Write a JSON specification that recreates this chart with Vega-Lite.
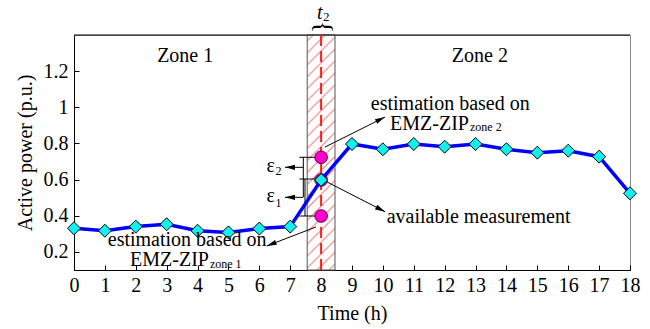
{
  "$schema": "https://vega.github.io/schema/vega-lite/v6.json",
  "width": 556,
  "height": 235,
  "autosize": "none",
  "padding": {"left": 74, "top": 35, "right": 20, "bottom": 59},
  "background": "white",
  "config": {
    "font": "Liberation Serif",
    "view": {"stroke": "#888888", "strokeWidth": 1},
    "axis": {
      "labelFont": "Liberation Serif", "labelFontSize": 20, "labelColor": "black",
      "titleFont": "Liberation Serif", "titleFontSize": 20, "titleFontWeight": "normal", "titleColor": "black",
      "domainColor": "black", "tickColor": "black", "grid": false, "tickSize": -5,
      "labelFlush": false, "labelOverlap": false
    }
  },
  "datasets": {
    "series": [
      {"x": 0, "y": 0.331}, {"x": 1, "y": 0.317}, {"x": 2, "y": 0.340}, {"x": 3, "y": 0.353},
      {"x": 4, "y": 0.317}, {"x": 5, "y": 0.308}, {"x": 6, "y": 0.329}, {"x": 7, "y": 0.340},
      {"x": 8, "y": 0.598}, {"x": 9, "y": 0.797}, {"x": 10, "y": 0.768}, {"x": 11, "y": 0.797},
      {"x": 12, "y": 0.782}, {"x": 13, "y": 0.797}, {"x": 14, "y": 0.768}, {"x": 15, "y": 0.749},
      {"x": 16, "y": 0.760}, {"x": 17, "y": 0.727}, {"x": 18, "y": 0.524}
    ],
    "estimates": [{"x": 8, "y": 0.7235}, {"x": 8, "y": 0.598}, {"x": 8, "y": 0.3987}],
    "band": [{"x": 7.55, "x2": 8.45, "y": 0.1, "y2": 1.4}],
    "marker": [{"x": 8, "y": 0.1, "y2": 1.4}],
    "frame": [{"x": 0, "x2": 18, "y": 1.4}],
    "brackets": [
      {"x": 7.294, "y": 0.7235, "x2": 7.802, "y2": 0.7235},
      {"x": 7.294, "y": 0.6034, "x2": 7.802, "y2": 0.6034},
      {"x": 7.294, "y": 0.3987, "x2": 7.802, "y2": 0.3987},
      {"x": 7.424, "y": 0.7235, "x2": 7.424, "y2": 0.502},
      {"x": 7.478, "y": 0.6034, "x2": 7.478, "y2": 0.3987}
    ],
    "arrows": [
      {"id": "A", "x": 8.126, "y": 0.780, "x2": 10.068, "y2": 0.946},
      {"id": "B", "x": 8.19, "y": 0.587, "x2": 10.07, "y2": 0.4225},
      {"id": "C", "x": 7.835, "y": 0.338, "x2": 6.238, "y2": 0.233},
      {"id": "E2", "x": 7.414, "y": 0.668, "x2": 6.831, "y2": 0.668},
      {"id": "E1", "x": 7.414, "y": 0.502, "x2": 6.831, "y2": 0.502}
    ],
    "centerText": [
      {"label": "Zone 1", "x": 3.6, "y": 1.252},
      {"label": "Zone 2", "x": 13.14, "y": 1.25},
      {"label": "estimation based on", "x": 12.18, "y": 0.985},
      {"label": "estimation based on", "x": 3.664, "y": 0.231}
    ],
    "rightText": [
      {"label": "EMZ-ZIP", "x": 12.788, "y": 0.8745},
      {"label": "EMZ-ZIP", "x": 4.37, "y": 0.12},
      {"label": "ε", "x": 6.507, "y": 0.644},
      {"label": "ε", "x": 6.507, "y": 0.4745}
    ],
    "leftText": [
      {"label": "available measurement", "x": 10.123, "y": 0.358}
    ],
    "subText": [
      {"label": "zone 2", "x": 12.82, "y": 0.869},
      {"label": "zone 1", "x": 4.40, "y": 0.112},
      {"label": "2", "x": 6.52, "y": 0.628},
      {"label": "1", "x": 6.52, "y": 0.450}
    ],
    "tText": [{"label": "t", "x": 7.96, "y": 1.487}],
    "tSub": [{"label": "2", "x": 8.061, "y": 1.480}],
    "brace": [{"label": "}", "x": 8.0, "y": 1.444}]
  },
  "encoding": {
    "x": {
      "field": "x", "type": "quantitative",
      "scale": {"domain": [0, 18], "nice": false, "zero": false},
      "axis": {"orient": "bottom", "values": [0,1,2,3,4,5,6,7,8,9,10,11,12,13,14,15,16,17,18], "format": "d", "title": "Time (h)", "labelFont": "Liberation Serif", "titleFont": "Liberation Serif", "labelPadding": 10, "titlePadding": 8}
    },
    "y": {
      "field": "y", "type": "quantitative",
      "scale": {"domain": [0.1, 1.4], "nice": false, "zero": false},
      "axis": {"values": [0.2, 0.4, 0.6, 0.8, 1, 1.2], "format": "~g", "title": "Active power (p.u.)", "labelFont": "Liberation Serif", "titleFont": "Liberation Serif", "labelPadding": 11, "titlePadding": 8}
    }
  },
  "layer": [
    {
      "data": {"name": "band"},
      "mark": {
        "type": "rect", "stroke": "#555555", "strokeWidth": 1,
        "fill": {
          "gradient": "linear", "x1": 0, "y1": 0, "x2": 0.1305, "y2": 1.1029,
          "stops": [
            {"offset": 0, "color": "#ffffff"},
            {"offset": 0.0167, "color": "#ffffff"}, {"offset": 0.0207, "color": "#f6a5a5"}, {"offset": 0.0247, "color": "#f6a5a5"}, {"offset": 0.0287, "color": "#ffffff"},
            {"offset": 0.0622, "color": "#ffffff"}, {"offset": 0.0662, "color": "#f6a5a5"}, {"offset": 0.0702, "color": "#f6a5a5"}, {"offset": 0.0742, "color": "#ffffff"},
            {"offset": 0.1076, "color": "#ffffff"}, {"offset": 0.1116, "color": "#f6a5a5"}, {"offset": 0.1156, "color": "#f6a5a5"}, {"offset": 0.1196, "color": "#ffffff"},
            {"offset": 0.1531, "color": "#ffffff"}, {"offset": 0.1571, "color": "#f6a5a5"}, {"offset": 0.1611, "color": "#f6a5a5"}, {"offset": 0.1651, "color": "#ffffff"},
            {"offset": 0.1985, "color": "#ffffff"}, {"offset": 0.2025, "color": "#f6a5a5"}, {"offset": 0.2065, "color": "#f6a5a5"}, {"offset": 0.2105, "color": "#ffffff"},
            {"offset": 0.244, "color": "#ffffff"}, {"offset": 0.248, "color": "#f6a5a5"}, {"offset": 0.252, "color": "#f6a5a5"}, {"offset": 0.256, "color": "#ffffff"},
            {"offset": 0.2895, "color": "#ffffff"}, {"offset": 0.2935, "color": "#f6a5a5"}, {"offset": 0.2975, "color": "#f6a5a5"}, {"offset": 0.3015, "color": "#ffffff"},
            {"offset": 0.3349, "color": "#ffffff"}, {"offset": 0.3389, "color": "#f6a5a5"}, {"offset": 0.3429, "color": "#f6a5a5"}, {"offset": 0.3469, "color": "#ffffff"},
            {"offset": 0.3804, "color": "#ffffff"}, {"offset": 0.3844, "color": "#f6a5a5"}, {"offset": 0.3884, "color": "#f6a5a5"}, {"offset": 0.3924, "color": "#ffffff"},
            {"offset": 0.4258, "color": "#ffffff"}, {"offset": 0.4298, "color": "#f6a5a5"}, {"offset": 0.4338, "color": "#f6a5a5"}, {"offset": 0.4378, "color": "#ffffff"},
            {"offset": 0.4713, "color": "#ffffff"}, {"offset": 0.4753, "color": "#f6a5a5"}, {"offset": 0.4793, "color": "#f6a5a5"}, {"offset": 0.4833, "color": "#ffffff"},
            {"offset": 0.5167, "color": "#ffffff"}, {"offset": 0.5207, "color": "#f6a5a5"}, {"offset": 0.5247, "color": "#f6a5a5"}, {"offset": 0.5287, "color": "#ffffff"},
            {"offset": 0.5622, "color": "#ffffff"}, {"offset": 0.5662, "color": "#f6a5a5"}, {"offset": 0.5702, "color": "#f6a5a5"}, {"offset": 0.5742, "color": "#ffffff"},
            {"offset": 0.6076, "color": "#ffffff"}, {"offset": 0.6116, "color": "#f6a5a5"}, {"offset": 0.6156, "color": "#f6a5a5"}, {"offset": 0.6196, "color": "#ffffff"},
            {"offset": 0.6531, "color": "#ffffff"}, {"offset": 0.6571, "color": "#f6a5a5"}, {"offset": 0.6611, "color": "#f6a5a5"}, {"offset": 0.6651, "color": "#ffffff"},
            {"offset": 0.6985, "color": "#ffffff"}, {"offset": 0.7025, "color": "#f6a5a5"}, {"offset": 0.7065, "color": "#f6a5a5"}, {"offset": 0.7105, "color": "#ffffff"},
            {"offset": 0.744, "color": "#ffffff"}, {"offset": 0.748, "color": "#f6a5a5"}, {"offset": 0.752, "color": "#f6a5a5"}, {"offset": 0.756, "color": "#ffffff"},
            {"offset": 0.7895, "color": "#ffffff"}, {"offset": 0.7935, "color": "#f6a5a5"}, {"offset": 0.7975, "color": "#f6a5a5"}, {"offset": 0.8015, "color": "#ffffff"},
            {"offset": 0.8349, "color": "#ffffff"}, {"offset": 0.8389, "color": "#f6a5a5"}, {"offset": 0.8429, "color": "#f6a5a5"}, {"offset": 0.8469, "color": "#ffffff"},
            {"offset": 0.8804, "color": "#ffffff"}, {"offset": 0.8844, "color": "#f6a5a5"}, {"offset": 0.8884, "color": "#f6a5a5"}, {"offset": 0.8924, "color": "#ffffff"},
            {"offset": 0.9258, "color": "#ffffff"}, {"offset": 0.9298, "color": "#f6a5a5"}, {"offset": 0.9338, "color": "#f6a5a5"}, {"offset": 0.9378, "color": "#ffffff"},
            {"offset": 0.9713, "color": "#ffffff"}, {"offset": 0.9753, "color": "#f6a5a5"}, {"offset": 0.9793, "color": "#f6a5a5"}, {"offset": 0.9833, "color": "#ffffff"},
            {"offset": 1, "color": "#ffffff"}
          ]
        }
      },
      "encoding": {
        "x2": {"field": "x2"},
        "y2": {"field": "y2"}
      }
    },
    {
      "data": {"name": "frame"},
      "mark": {"type": "rule", "color": "black", "strokeWidth": 1},
      "encoding": {"x2": {"field": "x2"}}
    },
    {
      "data": {"name": "marker"},
      "mark": {"type": "rule", "color": "#ff1a1a", "strokeWidth": 2, "strokeDash": [11, 5]},
      "encoding": {"y2": {"field": "y2"}}
    },
    {
      "data": {"name": "brackets"},
      "mark": {"type": "rule", "color": "black", "strokeWidth": 1},
      "encoding": {"x2": {"field": "x2"}, "y2": {"field": "y2"}}
    },
    {
      "data": {"name": "estimates"},
      "mark": {"type": "point", "shape": "circle", "filled": true, "fill": "#ff00cc", "stroke": "#600050", "strokeWidth": 1, "size": 160, "opacity": 1}
    },
    {
      "data": {"name": "series"},
      "mark": {"type": "line", "color": "#0000ff", "strokeWidth": 3.5}
    },
    {
      "data": {"name": "series"},
      "mark": {"type": "point", "shape": "diamond", "filled": true, "fill": "#10f0f0", "stroke": "black", "strokeWidth": 1, "size": 169, "opacity": 1}
    },
    {
      "data": {"name": "arrows"},
      "mark": {"type": "rule", "color": "black", "strokeWidth": 1},
      "encoding": {"x2": {"field": "x2"}, "y2": {"field": "y2"}}
    },
    {
      "data": {"name": "arrows"},
      "transform": [{"filter": "datum.id === 'A'"}],
      "mark": {"type": "point", "shape": "M0,0L-2.5,-0.65L-2.5,0.65Z", "filled": true, "color": "black", "size": 64, "opacity": 1, "angle": 333.4},
      "encoding": {"x": {"field": "x2", "type": "quantitative"}, "y": {"field": "y2", "type": "quantitative"}}
    },
    {
      "data": {"name": "arrows"},
      "transform": [{"filter": "datum.id === 'B'"}],
      "mark": {"type": "point", "shape": "M0,0L-2.5,-0.65L-2.5,0.65Z", "filled": true, "color": "black", "size": 64, "opacity": 1, "angle": 27.0},
      "encoding": {"x": {"field": "x2", "type": "quantitative"}, "y": {"field": "y2", "type": "quantitative"}}
    },
    {
      "data": {"name": "arrows"},
      "transform": [{"filter": "datum.id === 'C'"}],
      "mark": {"type": "point", "shape": "M0,0L-2.5,-0.65L-2.5,0.65Z", "filled": true, "color": "black", "size": 64, "opacity": 1, "angle": 158.9},
      "encoding": {"x": {"field": "x2", "type": "quantitative"}, "y": {"field": "y2", "type": "quantitative"}}
    },
    {
      "data": {"name": "arrows"},
      "transform": [{"filter": "datum.id === 'E1' || datum.id === 'E2'"}],
      "mark": {"type": "point", "shape": "M0,0L-2.5,-0.65L-2.5,0.65Z", "filled": true, "color": "black", "size": 64, "opacity": 1, "angle": 180},
      "encoding": {"x": {"field": "x2", "type": "quantitative"}, "y": {"field": "y2", "type": "quantitative"}}
    },
    {
      "data": {"name": "centerText"},
      "mark": {"type": "text", "font": "Liberation Serif", "fontSize": 20, "align": "center", "baseline": "alphabetic", "color": "black"},
      "encoding": {"text": {"field": "label"}}
    },
    {
      "data": {"name": "rightText"},
      "mark": {"type": "text", "font": "Liberation Serif", "fontSize": 20, "align": "right", "baseline": "alphabetic", "color": "black"},
      "encoding": {"text": {"field": "label"}}
    },
    {
      "data": {"name": "leftText"},
      "mark": {"type": "text", "font": "Liberation Serif", "fontSize": 20, "align": "left", "baseline": "alphabetic", "color": "black"},
      "encoding": {"text": {"field": "label"}}
    },
    {
      "data": {"name": "subText"},
      "mark": {"type": "text", "font": "Liberation Serif", "fontSize": 12, "align": "left", "baseline": "alphabetic", "color": "black"},
      "encoding": {"text": {"field": "label"}}
    },
    {
      "data": {"name": "tText"},
      "mark": {"type": "text", "font": "Liberation Serif", "fontSize": 20, "fontStyle": "italic", "align": "center", "baseline": "alphabetic", "color": "black"},
      "encoding": {"text": {"field": "label"}}
    },
    {
      "data": {"name": "tSub"},
      "mark": {"type": "text", "font": "Liberation Serif", "fontSize": 13, "align": "left", "baseline": "alphabetic", "color": "black"},
      "encoding": {"text": {"field": "label"}}
    },
    {
      "data": {"name": "brace"},
      "mark": {"type": "text", "font": "Liberation Serif", "fontSize": 26, "angle": 270, "align": "center", "baseline": "middle", "color": "black"},
      "encoding": {"text": {"field": "label"}}
    }
  ]
}
